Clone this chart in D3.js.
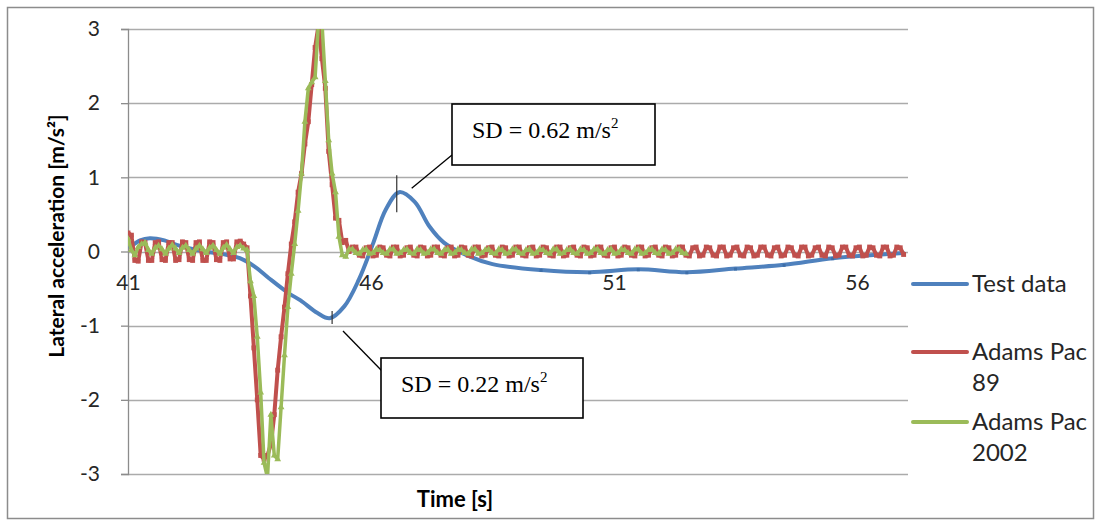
<!DOCTYPE html>
<html>
<head>
<meta charset="utf-8">
<script src="https://cdn.jsdelivr.net/npm/d3@7"></script>
<style>
  body { margin: 0; background: #fff; }
  svg { display: block; font-family: Lato, "Open Sans", sans-serif; }
</style>
</head>
<body>
<svg id="chart" width="1101" height="526"></svg>
<script>
// Axis ticks
const xTicks = [41, 46, 51, 56];
const yTicks = [-3, -2, -1, 0, 1, 2, 3];

// Test data (smoothed in the source chart)
const blueTime = [41.05, 41.25, 41.45, 41.75, 42.0, 42.5, 43.0, 43.3, 43.6, 43.9, 44.3, 44.55,
  44.9, 45.15, 45.45, 45.75, 46.05, 46.3, 46.58, 46.9, 47.2, 47.5, 48.0, 48.5,
  49.5, 50.5, 51.5, 52.5, 53.5, 54.5, 55.5, 56.5, 56.95];
const blueValue = [0.06, 0.15, 0.18, 0.15, 0.09, 0.01, -0.04, -0.09, -0.2, -0.36, -0.56, -0.66,
  -0.83, -0.9, -0.74, -0.38, 0.12, 0.56, 0.8, 0.67, 0.34, 0.12, -0.06, -0.17,
  -0.25, -0.28, -0.24, -0.28, -0.23, -0.18, -0.09, -0.04, -0.02];
// points where the test data shows its small markers
const blueMarkerTime = [49.5, 50.5, 51.5, 52.5, 53.5, 54.5, 55.5];

// Simulation outputs, sampled every 0.07 s from t = 41 s
const sampleStart = 41;
const sampleStep = 0.07;

const redEarly = [0.25, 0.22, -0.12, -0.13, 0.13, 0.12, -0.12, -0.12, 0.12, 0.13, -0.11, -0.12,
  0.12, 0.12, -0.12, -0.11, 0.13, 0.12, -0.11, -0.12, 0.12, 0.13, -0.12, -0.12,
  0.13, 0.12, -0.11, -0.12, 0.12, 0.13, -0.1, -0.1, 0.13, 0.14, 0.1];
const redTransient = [0.05, -0.6, -1.3, -2.0, -2.75, -2.8, -2.75, -2.6, -2.2, -1.6, -1.15, -0.75,
  -0.3, 0.1, 0.4, 0.8, 1.05, 1.45, 1.75, 2.25, 2.75, 3.05, 2.6, 2.2, 1.35, 0.9,
  0.45, 0.42, 0.12, 0.15, 0.0];
const redLate = [
  0.06, 0.06, -0.05, -0.06, 0.05, 0.06, -0.06, -0.05, 0.06, 0.05, -0.05, -0.06,
  0.06, 0.06, -0.06, -0.05, 0.05, 0.06, -0.05, -0.06, 0.06, 0.05, -0.06, -0.05,
  0.06, 0.06, -0.05, -0.06, 0.05, 0.06, -0.06, -0.05, 0.06, 0.05, -0.05, -0.06,
  0.06, 0.06, -0.06, -0.05, 0.05, 0.06, -0.05, -0.06, 0.06, 0.05, -0.06, -0.05,
  0.06, 0.06, -0.05, -0.06, 0.05, 0.06, -0.06, -0.05, 0.06, 0.05, -0.05, -0.06,
  0.06, 0.06, -0.06, -0.05, 0.05, 0.06, -0.05, -0.06, 0.06, 0.05, -0.06, -0.05,
  0.06, 0.06, -0.05, -0.06, 0.05, 0.06, -0.06, -0.05, 0.06, 0.05, -0.05, -0.06,
  0.06, 0.06, -0.06, -0.05, 0.05, 0.06, -0.05, -0.06, 0.06, 0.05, -0.06, -0.05,
  0.06, 0.06, -0.05, -0.06, 0.05, 0.06, -0.06, -0.05, 0.06, 0.05, -0.05, -0.06,
  0.06, 0.06, -0.06, -0.05, 0.05, 0.06, -0.05, -0.06, 0.06, 0.05, -0.06, -0.05,
  0.06, 0.06, -0.05, -0.06, 0.05, 0.06, -0.06, -0.05, 0.06, 0.05, -0.05, -0.06,
  0.06, 0.06, -0.06, -0.05, 0.05, 0.06, -0.05, -0.06, 0.06, 0.05, -0.06, -0.05,
  0.06, 0.06, -0.05, -0.06, 0.05, 0.06, -0.06, -0.05, 0.06, 0.05, -0.05, -0.06,
  0.06, 0.06, -0.06, -0.05, 0.06, 0.05, -0.04];

const greenEarly = [0.17, 0.02, -0.05, 0.06, 0.1, 0.12, 0.02, -0.03, 0.05, 0.08, 0.03, -0.03,
  0.04, 0.09, 0.04, -0.02, 0.05, 0.08, 0.02, -0.03, 0.04, 0.08, 0.03, -0.02,
  0.05, 0.08, 0.02, -0.03, 0.05, 0.09, 0.03, -0.02, 0.06, 0.08, 0.04];
const greenTransient = [0.02, -0.4, -0.6, -1.15, -1.9, -2.85, -3.05, -2.2, -2.75, -2.8, -2.1, -1.4,
  -0.75, -0.3, 0.1, 0.55, 1.05, 1.75, 2.2, 2.28, 2.35, 3.1, 3.1, 2.3, 1.5, 1.05,
  0.8, 0.2, -0.05, -0.07];
const greenLate = [
  0.03, 0.03, -0.02, -0.03, 0.02, 0.03, -0.03, -0.02, 0.03, 0.02, -0.02, -0.03,
  0.03, 0.03, -0.03, -0.02, 0.02, 0.03, -0.02, -0.03, 0.03, 0.02, -0.03, -0.02,
  0.03, 0.03, -0.02, -0.03, 0.02, 0.03, -0.03, -0.02, 0.03, 0.02, -0.02, -0.03,
  0.03, 0.03, -0.03, -0.02, 0.02, 0.03, -0.02, -0.03, 0.03, 0.02, -0.03, -0.02,
  0.03, 0.03, -0.02, -0.03, 0.02, 0.03, -0.03, -0.02, 0.03, 0.02, -0.02, -0.03,
  0.03, 0.03, -0.03, -0.02, 0.02, 0.03, -0.02, -0.03, 0.03, 0.02, -0.03, -0.02,
  0.03, 0.03, -0.02, -0.03, 0.02, 0.03, -0.03, -0.02, 0.03, 0.02, -0.02, -0.03,
  0.03, 0.03, -0.03, -0.02, 0.02, 0.03, -0.02, -0.03, 0.03, 0.02, -0.03, -0.02,
  0.03, 0.03, -0.02, -0.03];

// Legend names (two lines where the original wraps)
const seriesNames = [["Test data"], ["Adams Pac", "89"], ["Adams Pac", "2002"]];
const seriesColors = ["#4f81bd", "#c0504d", "#9bbb59"];

// Annotation labels and the point each one marks
const annoLabels = ["0.62", "0.22"];
const annoTime = [46.53, 45.2];
const annoValue = [0.78, -0.89];

// ---- build point lists ----
const toSamples = vals => vals.map((v, i) => ({ t: sampleStart + i * sampleStep, v }));
const blueData = blueTime.map((t, i) => ({ t, v: blueValue[i] }));
const blueMarkers = blueData.filter(d => blueMarkerTime.includes(d.t));
const redData = toSamples(redEarly.concat(redTransient, redLate));
const greenData = toSamples(greenEarly.concat(greenTransient, greenLate));

const svg = d3.select('#chart');
const x = d3.scaleLinear().domain([41, 57.05]).range([128, 908]);
const y = d3.scaleLinear().domain([-3, 3]).range([474, 29]);

// outer chart frame
svg.append('rect')
  .attr('x', 7.5).attr('y', 7.5).attr('width', 1086).attr('height', 511)
  .attr('fill', '#fff').attr('stroke', '#8c8c8c').attr('stroke-width', 1.5);

// horizontal gridlines
svg.append('g').selectAll('line').data(yTicks).join('line')
  .attr('x1', x.range()[0]).attr('x2', x.range()[1])
  .attr('y1', d => Math.round(y(d)) + 0.5).attr('y2', d => Math.round(y(d)) + 0.5)
  .attr('stroke', '#ababab').attr('stroke-width', 1.3);

// y axis
const yAxis = svg.append('g')
  .attr('transform', `translate(${x.range()[0]},0)`)
  .call(d3.axisLeft(y).tickValues(yTicks).tickSize(7).tickPadding(21).tickFormat(d => String(d)));
yAxis.select('.domain').attr('stroke', '#8c8c8c').attr('stroke-width', 1.3);
yAxis.selectAll('.tick line').attr('stroke', '#8c8c8c').attr('stroke-width', 1.3);
yAxis.selectAll('text').attr('font-family', 'Lato').attr('font-size', 21).attr('fill', '#262626');

// x axis labels sit below the zero line
const xAxis = svg.append('g')
  .attr('transform', `translate(0,${y(0)})`)
  .call(d3.axisBottom(x).tickValues(xTicks).tickSize(0).tickPadding(24).tickFormat(d => String(d)));
xAxis.select('.domain').remove();
xAxis.selectAll('text').attr('font-family', 'Lato').attr('font-size', 21).attr('fill', '#262626');

// clip series to plot area
svg.append('clipPath').attr('id', 'plot-clip')
  .append('rect').attr('x', 128).attr('y', 29).attr('width', 780).attr('height', 445);
const plot = svg.append('g').attr('clip-path', 'url(#plot-clip)');

const line = d3.line().x(d => x(d.t)).y(d => y(d.v));

// Test data
plot.append('path').datum(blueData)
  .attr('d', line.curve(d3.curveCatmullRom.alpha(0.5)))
  .attr('fill', 'none').attr('stroke', seriesColors[0]).attr('stroke-width', 4)
  .attr('stroke-linejoin', 'round').attr('stroke-linecap', 'round');
plot.append('g').selectAll('rect').data(blueMarkers).join('rect')
  .attr('x', d => x(d.t) - 1.5).attr('y', d => y(d.v) - 1)
  .attr('width', 3).attr('height', 3).attr('fill', '#3d6ea8');

// Adams Pac 89
plot.append('path').datum(redData)
  .attr('d', line.curve(d3.curveLinear))
  .attr('fill', 'none').attr('stroke', seriesColors[1]).attr('stroke-width', 4)
  .attr('stroke-linejoin', 'round');
plot.append('g').selectAll('path').data(redData).join('path')
  .attr('transform', d => `translate(${x(d.t)},${y(d.v)})`)
  .attr('d', d3.symbol(d3.symbolSquare, 24))
  .attr('fill', seriesColors[1]);

// Adams Pac 2002
plot.append('path').datum(greenData)
  .attr('d', line.curve(d3.curveLinear))
  .attr('fill', 'none').attr('stroke', seriesColors[2]).attr('stroke-width', 3.5)
  .attr('stroke-linejoin', 'round');
plot.append('g').selectAll('path').data(greenData).join('path')
  .attr('transform', d => `translate(${x(d.t)},${y(d.v)})`)
  .attr('d', d3.symbol(d3.symbolTriangle, 20))
  .attr('fill', seriesColors[2]);

// ---- annotations ----
const boxes = [
  { x: 452, y: 104, w: 203, h: 61, tick: 18.5, lead: [[411.7, 188.3], [452, 155]] },
  { x: 381, y: 358, w: 202, h: 60, tick: 6.5, lead: [[343, 331], [382, 371]] }
];
const anno = svg.append('g');
boxes.forEach((b, i) => {
  const ax = x(annoTime[i]), ay = y(annoValue[i]);
  anno.append('line')
    .attr('x1', ax).attr('x2', ax).attr('y1', ay - b.tick).attr('y2', ay + b.tick)
    .attr('stroke', '#333').attr('stroke-width', 1.2);
  anno.append('line')
    .attr('x1', b.lead[0][0]).attr('y1', b.lead[0][1])
    .attr('x2', b.lead[1][0]).attr('y2', b.lead[1][1])
    .attr('stroke', '#000').attr('stroke-width', 1.3);
  anno.append('rect')
    .attr('x', b.x).attr('y', b.y).attr('width', b.w).attr('height', b.h)
    .attr('fill', '#fff').attr('stroke', '#000').attr('stroke-width', 1.6);
  const t = anno.append('text')
    .attr('x', b.x + 20).attr('y', b.y + 34)
    .attr('font-family', '"Liberation Serif", "Times New Roman", serif')
    .attr('font-size', 24).attr('fill', '#000');
  t.append('tspan').text(`SD = ${annoLabels[i]} m/s`);
  t.append('tspan').attr('font-size', 15).attr('dy', -10).text('2');
});

// ---- axis titles ----
svg.append('text')
  .attr('transform', 'translate(64,236) rotate(-90)')
  .attr('text-anchor', 'middle')
  .attr('font-family', 'Lato').attr('font-weight', 'bold').attr('font-size', 21)
  .attr('fill', '#000')
  .text('Lateral acceleration [m/s²]');
svg.append('text')
  .attr('x', 455).attr('y', 507)
  .attr('text-anchor', 'middle')
  .attr('font-family', 'Lato').attr('font-weight', 'bold').attr('font-size', 22)
  .attr('fill', '#000')
  .text('Time [s]');

// ---- legend ----
const legendY = [284, 352, 422];
const legend = svg.append('g');
seriesNames.forEach((lines, i) => {
  const ly = legendY[i];
  legend.append('line')
    .attr('x1', 913).attr('x2', 967).attr('y1', ly).attr('y2', ly)
    .attr('stroke', seriesColors[i]).attr('stroke-width', 4).attr('stroke-linecap', 'round');
  const txt = legend.append('text')
    .attr('x', 972).attr('y', ly)
    .attr('font-family', 'Lato').attr('font-size', 24).attr('fill', '#262626');
  lines.forEach((s, j) => {
    txt.append('tspan').attr('x', 972).attr('dy', j === 0 ? '0.35em' : 31).text(s);
  });
});
</script>
</body>
</html>
